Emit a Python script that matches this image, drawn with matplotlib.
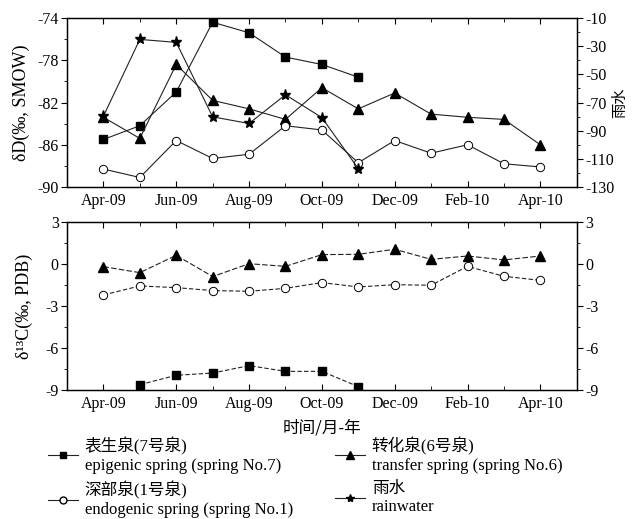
import matplotlib
matplotlib.use("Agg")
import matplotlib.pyplot as plt
from matplotlib.lines import Line2D
from matplotlib.font_manager import FontProperties
from matplotlib.ticker import MultipleLocator

plt.rcParams['font.family'] = ['Liberation Serif', 'Noto Sans CJK SC']
plt.rcParams['axes.unicode_minus'] = False

months = ['Apr-09', 'May-09', 'Jun-09', 'Jul-09', 'Aug-09', 'Sep-09', 'Oct-09',
          'Nov-09', 'Dec-09', 'Jan-10', 'Feb-10', 'Mar-10', 'Apr-10']
tick_labels = ['Apr-09', 'Jun-09', 'Aug-09', 'Oct-09', 'Dec-09', 'Feb-10', 'Apr-10']

# delta D (top panel)
dD_epigenic = [-85.5, -84.2, -81.0, -74.4, -75.4, -77.7, -78.4, -79.6]
dD_transfer = [-83.4, -85.4, -78.4, -81.8, -82.6, -83.6, -80.6, -82.6, -81.1,
               -83.1, -83.4, -83.6, -86.0]
dD_endogenic = [-88.3, -89.1, -85.6, -87.3, -86.9, -84.2, -84.6, -87.7, -85.6,
                -86.8, -86.0, -87.8, -88.1]
dD_rain = [-79.7, -25.2, -27.3, -80.2, -84.9, -64.5, -80.7, -117.0]

# delta 13C (bottom panel)
c13_epigenic_months = ['May-09', 'Jun-09', 'Jul-09', 'Aug-09', 'Sep-09', 'Oct-09', 'Nov-09']
c13_epigenic = [-8.62, -7.95, -7.79, -7.26, -7.67, -7.67, -8.76]
c13_transfer = [-0.19, -0.62, 0.62, -0.90, 0.02, -0.17, 0.67, 0.69, 1.05,
                0.33, 0.57, 0.29, 0.57]
c13_endogenic = [-2.21, -1.57, -1.69, -1.90, -1.95, -1.74, -1.33, -1.64, -1.48,
                 -1.52, -0.17, -0.88, -1.17]

fs = 11.5
fig = plt.figure(figsize=(6.34, 5.19), dpi=100)
ax1 = fig.add_axes([0.1057, 0.6397, 0.804, 0.3256])
ax2 = fig.add_axes([0.1057, 0.2486, 0.804, 0.3237])

idx = {m: i for i, m in enumerate(months)}
x_all = [idx[m] for m in months]

lc = '#222222'
lw = 0.8
ax1.plot(x_all[:len(dD_epigenic)], dD_epigenic, color=lc, lw=lw, marker='s', ms=5.5,
         mfc='black', mec='black')
ax1.plot(x_all, dD_transfer, color=lc, lw=lw, marker='^', ms=7, mfc='black', mec='black')
ax1.plot(x_all, dD_endogenic, color=lc, lw=lw, marker='o', ms=6, mfc='white', mec='black', mew=0.7)
ax1r = ax1.twinx()
ax1r.plot(x_all[:len(dD_rain)], dD_rain, color=lc, lw=lw, marker='*', ms=8, mfc='black', mec='black')

ax1.set_ylim(-90, -74)
ax1.set_yticks([-74, -78, -82, -86, -90])
ax1.yaxis.set_minor_locator(MultipleLocator(2))
ax1r.set_ylim(-130, -10)
ax1r.set_yticks(list(range(-10, -131, -20)))
ax1r.yaxis.set_minor_locator(MultipleLocator(10))
ax1.set_ylabel('δD(‰, SMOW)', fontsize=13, labelpad=5)
ax1r.set_ylabel('雨水', fontsize=11, family=['Noto Sans CJK SC'], rotation=90)
ax1r.yaxis.set_label_coords(1.068, 0.5)

x_ep = [idx[m] for m in c13_epigenic_months]
ax2.plot(x_ep, c13_epigenic, color=lc, lw=lw, ls=(0, (4, 2)), marker='s', ms=5.5,
         mfc='black', mec='black')
ax2.plot(x_all, c13_transfer, color=lc, lw=lw, ls=(0, (5, 2)), marker='^', ms=7,
         mfc='black', mec='black')
ax2.plot(x_all, c13_endogenic, color=lc, lw=lw, ls=(0, (4, 2)), marker='o', ms=6,
         mfc='white', mec='black', mew=0.7)
ax2.set_ylim(-9, 3)
ax2.set_yticks([3, 0, -3, -6, -9])
ax2.yaxis.set_minor_locator(MultipleLocator(1.5))
ax2r = ax2.twinx()
ax2r.set_ylim(-9, 3)
ax2r.set_yticks([3, 0, -3, -6, -9])
ax2r.yaxis.set_minor_locator(MultipleLocator(1.5))
ax2.set_ylabel('δ¹³C(‰, PDB)', fontsize=13, labelpad=9)
ax2.set_xlabel('时间/月-年', fontsize=12, family=['Noto Sans CJK SC'], labelpad=6)

for ax in (ax1, ax2):
    ax.set_xlim(-1, 13)
    ax.set_xticks([idx[m] for m in tick_labels])
    ax.set_xticklabels(tick_labels)
    ax.xaxis.set_minor_locator(MultipleLocator(1))
    ax.tick_params(axis='x', which='both', direction='in', top=True, bottom=True,
                   labelsize=fs, pad=4)
    ax.tick_params(axis='x', which='major', length=4)
    ax.tick_params(axis='x', which='minor', length=3)
    ax.tick_params(axis='y', which='major', direction='out', length=4, labelsize=fs, pad=2)
    ax.tick_params(axis='y', which='minor', direction='out', length=2)
for ax in (ax1r, ax2r):
    ax.tick_params(axis='y', which='major', direction='out', length=4, labelsize=fs, pad=2)
    ax.tick_params(axis='y', which='minor', direction='out', length=2)
for ax in (ax1, ax2, ax1r, ax2r):
    for s in ax.spines.values():
        s.set_linewidth(0.9)

# legend
legend_labels = ['表生泉(7号泉)\nepigenic spring (spring No.7)',
                 '深部泉(1号泉)\nendogenic spring (spring No.1)',
                 '转化泉(6号泉)\ntransfer spring (spring No.6)',
                 '雨水\nrainwater']
h_ep = Line2D([], [], color=lc, lw=lw, marker='s', ms=5, mfc='black', mec='black')
h_en = Line2D([], [], color=lc, lw=lw, marker='o', ms=5, mfc='white', mec='black')
h_tr = Line2D([], [], color=lc, lw=lw, marker='^', ms=5.5, mfc='black', mec='black')
h_rn = Line2D([], [], color=lc, lw=lw, marker='*', ms=6, mfc='black', mec='black')
lp = FontProperties(family=['Liberation Serif', 'Noto Sans CJK SC'], size=12)
common = dict(frameon=False, prop=lp, handlelength=1.8, handletextpad=0.4,
              labelspacing=0.45, borderpad=0, borderaxespad=0, loc='upper left')
fig.legend([h_ep, h_en], legend_labels[:2], bbox_to_anchor=(48 / 634, 1 - 437 / 519), **common)
fig.legend([h_tr, h_rn], legend_labels[2:], bbox_to_anchor=(335 / 634, 1 - 437 / 519), **common)

fig.savefig('out.png', dpi=100)
